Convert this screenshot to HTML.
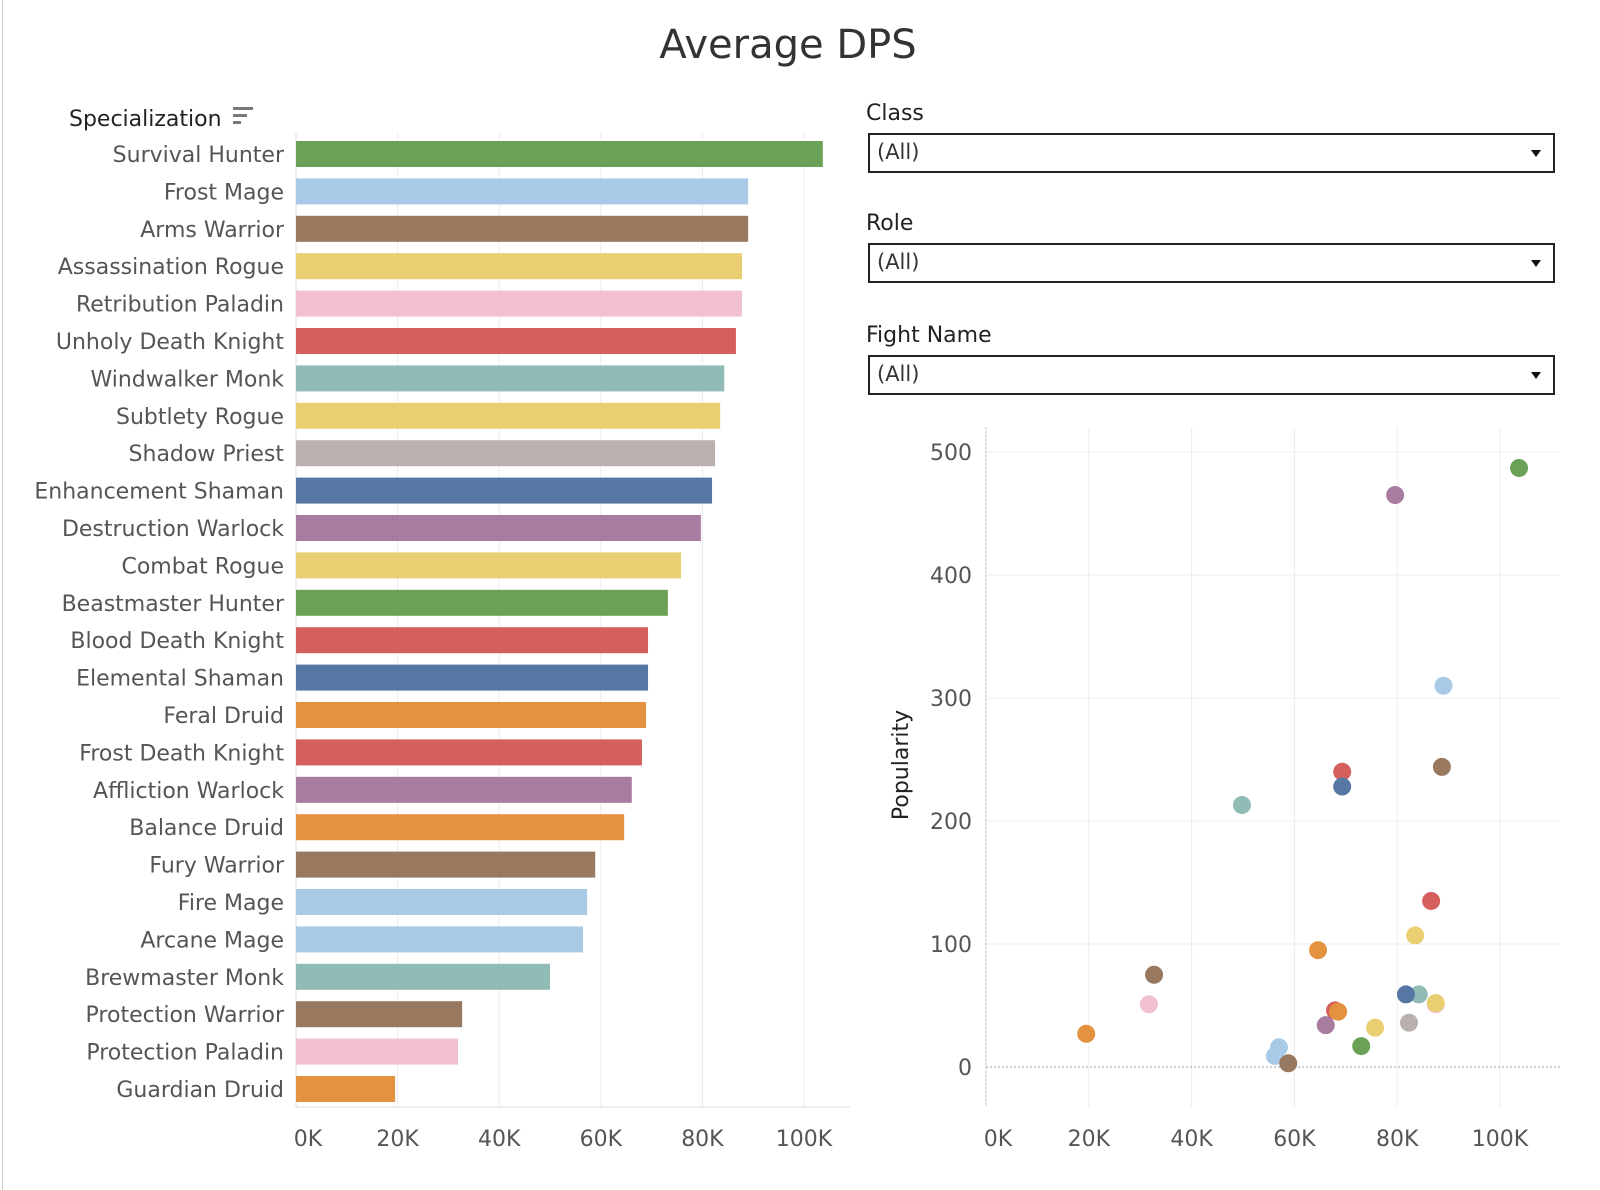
<!DOCTYPE html>
<html><head><meta charset="utf-8"><style>
body{margin:0;width:1600px;height:1190px;background:#fff;font-family:"DejaVu Sans","Liberation Sans",sans-serif;overflow:hidden;position:relative}
.t{position:absolute;color:#333}
.dd{position:absolute;left:868px;width:683px;height:36px;border:2px solid #222;background:#fff}
.dd span{position:absolute;left:7px;top:5px;font-size:21px;color:#333}
.dd i{position:absolute;right:12px;top:15px;border-left:5px solid transparent;border-right:5px solid transparent;border-top:7px solid #111}
.lbl{position:absolute;left:866px;font-size:22px;color:#222}
</style></head><body>
<div style="position:absolute;left:2px;top:0;width:1px;height:1190px;background:#ccc"></div>
<div class="t" style="left:0;width:1576px;text-align:center;top:22px;font-size:40px">Average DPS</div>
<div class="lbl" style="top:101px">Class</div>
<div class="dd" style="top:133px"><span>(All)</span><i></i></div>
<div class="lbl" style="top:211px">Role</div>
<div class="dd" style="top:243px"><span>(All)</span><i></i></div>
<div class="lbl" style="top:323px">Fight Name</div>
<div class="dd" style="top:355px"><span>(All)</span><i></i></div>
<svg id="s" width="1600" height="1190" style="position:absolute;left:0;top:0"></svg>
<script>
const specs=["Survival Hunter","Frost Mage","Arms Warrior","Assassination Rogue","Retribution Paladin","Unholy Death Knight","Windwalker Monk","Subtlety Rogue","Shadow Priest","Enhancement Shaman","Destruction Warlock","Combat Rogue","Beastmaster Hunter","Blood Death Knight","Elemental Shaman","Feral Druid","Frost Death Knight","Affliction Warlock","Balance Druid","Fury Warrior","Fire Mage","Arcane Mage","Brewmaster Monk","Protection Warrior","Protection Paladin","Guardian Druid"];
const dps=[103.7,89,89,87.8,87.8,86.6,84.3,83.5,82.5,81.9,79.7,75.8,73.2,69.3,69.3,68.9,68.1,66.1,64.6,58.9,57.3,56.5,50,32.7,31.9,19.5];
const popularity=[487,310,244,52,51,135,59,107,36,59,465,32,17,240,228,95,46,34,45,75,16,9,213,3,51,27];
const scatterDps=[103.7,89,88.7,87.5,87.5,86.6,84.2,83.5,82.3,81.7,79.6,75.7,73,69.3,69.3,64.6,67.9,66.1,68.5,32.7,57,56.2,49.8,58.8,31.7,19.5];
const classColor=["#6aa156","#a8cae6","#98785f","#e9cf72","#f1c0d1","#d55f5c","#91bcb5","#e9cf72","#bab0ad","#5677a4","#a77c9f","#e9cf72","#6aa156","#d55f5c","#5677a4","#e59240","#d55f5c","#a77c9f","#e59240","#98785f","#a8cae6","#a8cae6","#91bcb5","#98785f","#f1c0d1","#e59240"];
const xTicks=[0,20,40,60,80,100];
const yTicks=[0,100,200,300,400,500];
const S=document.getElementById('s'),NS="http://www.w3.org/2000/svg";
function el(t,a,txt){const e=document.createElementNS(NS,t);for(const k in a)e.setAttribute(k,a[k]);if(txt!=null)e.textContent=txt;S.appendChild(e);return e;}
const bx=v=>296+v*5.08, rowY=i=>154+i*37.4;
const sx=v=>986+v*5.14, sy=v=>1067-v*1.23;
xTicks.forEach(t=>{const g=el('line',{x1:bx(t),x2:bx(t),y1:133,y2:1107,stroke:'#ececec'});


const l=el('text',{x:bx(t)+(t==0?12:0),y:1146,'text-anchor':'middle','font-size':22,fill:'#555'},t+'K');

});
el('line',{x1:296,x2:850,y1:1107,y2:1107,stroke:'#ddd'});
el('line',{x1:296,x2:296,y1:133,y2:1107,stroke:'#ddd'});
const h=el('text',{x:69,y:126,'font-size':22,fill:'#222'},'Specialization');


el('rect',{x:233,y:107,width:20,height:3,fill:'#777'});el('rect',{x:233,y:114,width:14,height:3,fill:'#777'});el('rect',{x:233,y:121,width:8,height:3,fill:'#777'});
specs.forEach((s,i)=>{const y=rowY(i);
const r=el('rect',{x:296,y:y-13,width:bx(dps[i])-296,height:26,fill:classColor[i]});


const t=el('text',{x:284,y:y+8,'text-anchor':'end','font-size':22,fill:'#555'},s);

});
xTicks.forEach(t=>{const g=el('line',{x1:sx(t),x2:sx(t),y1:427,y2:1107,stroke:'#ececec'});


const l=el('text',{x:sx(t)+(t==0?12:0),y:1146,'text-anchor':'middle','font-size':22,fill:'#555'},t+'K');

});
yTicks.forEach(t=>{const g=el('line',{x1:986,x2:1560,y1:sy(t),y2:sy(t),stroke:t==0?'#999':'#ececec','stroke-dasharray':t==0?'2,2':''});


const l=el('text',{x:972,y:sy(t)+8,'text-anchor':'end','font-size':22,fill:'#555'},t);

});
el('line',{x1:986,x2:986,y1:427,y2:1107,stroke:'#bbb','stroke-dasharray':'2,2'});
const yt=el('text',{x:908,y:765,'text-anchor':'middle','font-size':22,fill:'#222',transform:'rotate(-90 908 765)'},'Popularity');


const order=[4].concat(specs.map((_,i)=>i).filter(i=>i!==4));
order.forEach(i=>{const s=specs[i];const c=el('circle',{cx:sx(scatterDps[i]),cy:sy(popularity[i]),r:9,fill:classColor[i]});

});
</script>
</body></html>
